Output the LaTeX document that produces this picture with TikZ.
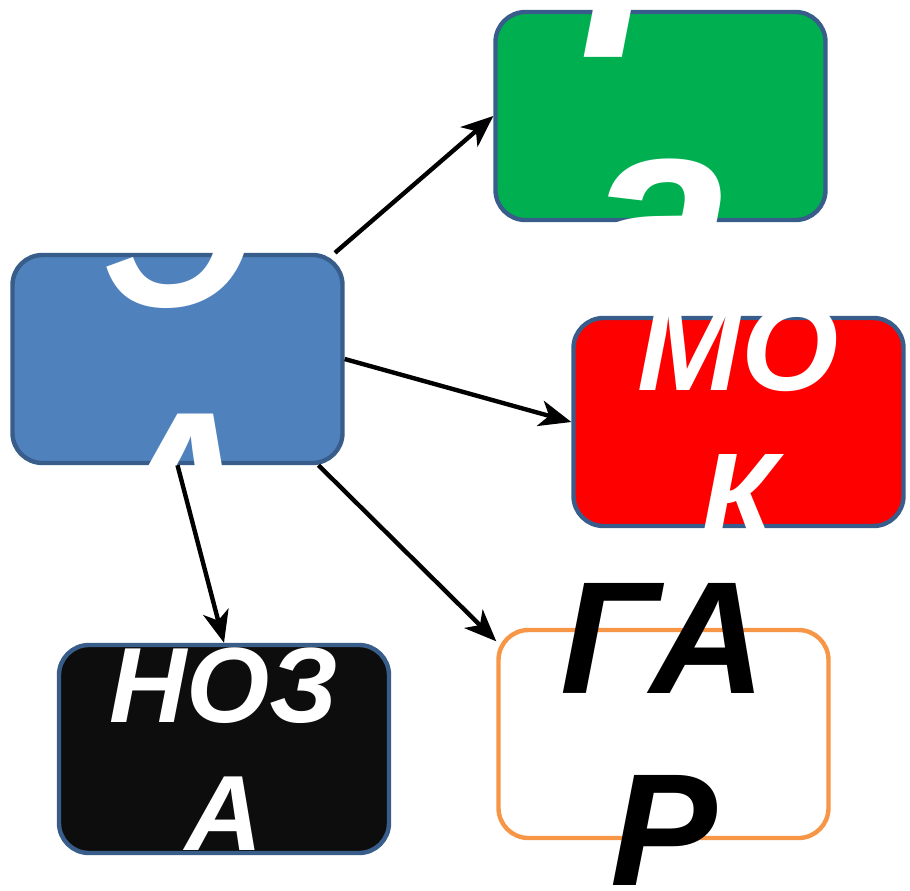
\documentclass[tikz,border=0pt]{standalone}
\usepackage{fontspec}
\setmainfont{Liberation Sans}
\usetikzlibrary{arrows.meta}

\definecolor{boxline}{RGB}{56,93,138}
\definecolor{hubfill}{RGB}{79,129,189}
\definecolor{goodfill}{RGB}{0,176,80}
\definecolor{warnfill}{RGB}{255,0,0}
\definecolor{darkfill}{RGB}{13,13,13}
\definecolor{softline}{RGB}{247,150,70}

\tikzset{
  card/.style={draw=boxline, line width=2.2pt, rounded corners=15pt,
    minimum width=165pt, minimum height=104pt, inner sep=0pt},
  word/.style={align=center, text=white, inner sep=0pt},
  link/.style={line width=2.2pt, -{Stealth[length=16pt,width=13pt,inset=4.5pt]}},
}

\begin{document}
\begin{tikzpicture}[x=0.5pt,y=-0.5pt]
  \useasboundingbox (0,0) rectangle (910,890);
  % boxes
  \node[card,fill=hubfill] (hub) at (177.5,359) {};
  \node[card,fill=goodfill] (gbox) at (660.5,116) {};
  \node[card,fill=warnfill] (rbox) at (738.5,422) {};
  \node[card,fill=darkfill] (kbox) at (224,749) {};
  \node[card,draw=softline,fill=white] (obox) at (663.5,734) {};
  % words
  \node[word,font=\fontsize{105pt}{126pt}\selectfont\bfseries\itshape] (htxt) at (hub) {Э\\А};
  \node[word,yshift=13pt,font=\fontsize{132.5pt}{122pt}\selectfont\bfseries\itshape] (gtxt) at (gbox) {Г\\а};
  \node[word,font=\fontsize{62.5pt}{75pt}\selectfont\bfseries\itshape] (rtxt) at (rbox) {МО\\К};
  \node[word,font=\fontsize{53.5pt}{64pt}\selectfont\bfseries\itshape] (ktxt) at (kbox) {НОЗ\\А};
  \node[word,text=black,font=\fontsize{80pt}{96pt}\selectfont\bfseries\itshape] (otxt) at (obox) {ГА\\Р};
  % arrows
  \draw[link] (hub.34.5) -- (gbox.west);
  \draw[link] (hub.east) -- (rbox.west);
  \draw[link] (hub.south) -- (kbox.north);
  \draw[link] (hub.-37.6) -- (obox.151.7);
\end{tikzpicture}
\end{document}
